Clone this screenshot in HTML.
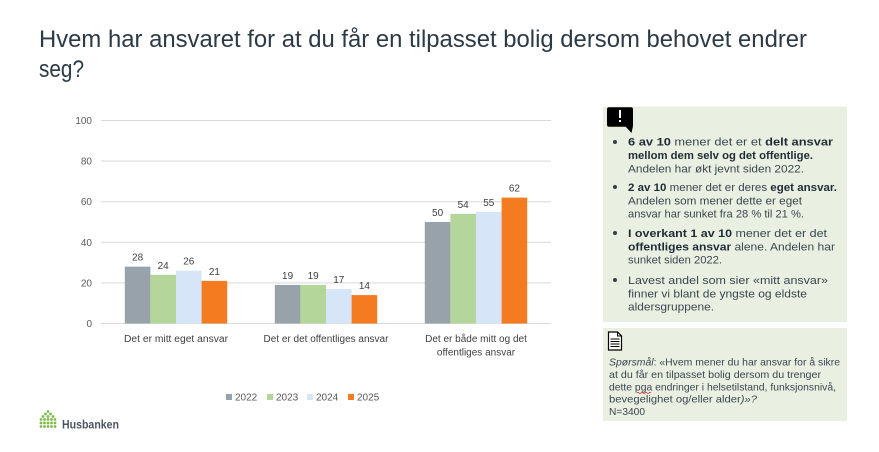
<!DOCTYPE html>
<html>
<head>
<meta charset="utf-8">
<style>
html,body{margin:0;padding:0;background:#fff;}
svg{display:block;}
text{font-family:"Liberation Sans",Arial,sans-serif;}
</style>
</head>
<body>
<svg width="879" height="452" viewBox="0 0 879 452" xmlns="http://www.w3.org/2000/svg">
<rect width="879" height="452" fill="#ffffff"/>

<!-- Title -->
<text x="39" y="47" font-size="24" fill="#2b3a46" textLength="768" lengthAdjust="spacingAndGlyphs">Hvem har ansvaret for at du får en tilpasset bolig dersom behovet endrer</text>
<text x="39" y="77" font-size="24" fill="#2b3a46" textLength="45" lengthAdjust="spacingAndGlyphs">seg?</text>

<!-- Gridlines -->
<g stroke="#d9d9d9" stroke-width="1">
<line x1="101" y1="120.5" x2="551" y2="120.5"/>
<line x1="101" y1="161.1" x2="551" y2="161.1"/>
<line x1="101" y1="201.7" x2="551" y2="201.7"/>
<line x1="101" y1="242.3" x2="551" y2="242.3"/>
<line x1="101" y1="282.9" x2="551" y2="282.9"/>
<line x1="101" y1="323.5" x2="551" y2="323.5"/>
</g>

<!-- Y labels -->
<g font-size="10" fill="#595959" text-anchor="end">
<text x="92" y="124">100</text>
<text x="92" y="164.6">80</text>
<text x="92" y="205.2">60</text>
<text x="92" y="245.8">40</text>
<text x="92" y="286.4">20</text>
<text x="92" y="327">0</text>
</g>

<!-- Bars -->
<g>
<rect x="124.8" y="266.66" width="25.6" height="56.84" fill="#98a2aa"/>
<rect x="150.4" y="274.78" width="25.6" height="48.72" fill="#b4d69b"/>
<rect x="176" y="270.72" width="25.6" height="52.78" fill="#d6e6f8"/>
<rect x="201.6" y="280.87" width="25.6" height="42.63" fill="#f47b20"/>

<rect x="274.8" y="284.93" width="25.6" height="38.57" fill="#98a2aa"/>
<rect x="300.4" y="284.93" width="25.6" height="38.57" fill="#b4d69b"/>
<rect x="326" y="288.99" width="25.6" height="34.51" fill="#d6e6f8"/>
<rect x="351.6" y="295.08" width="25.6" height="28.42" fill="#f47b20"/>

<rect x="424.8" y="222" width="25.6" height="101.5" fill="#98a2aa"/>
<rect x="450.4" y="213.88" width="25.6" height="109.62" fill="#b4d69b"/>
<rect x="476" y="211.85" width="25.6" height="111.65" fill="#d6e6f8"/>
<rect x="501.6" y="197.64" width="25.6" height="125.86" fill="#f47b20"/>
</g>

<!-- Value labels -->
<g font-size="10" fill="#404040" text-anchor="middle">
<text x="137.6" y="260.7">28</text>
<text x="163.2" y="268.8">24</text>
<text x="188.8" y="264.7">26</text>
<text x="214.4" y="274.9">21</text>
<text x="287.6" y="278.9">19</text>
<text x="313.2" y="278.9">19</text>
<text x="338.8" y="283">17</text>
<text x="364.4" y="289.1">14</text>
<text x="437.6" y="216">50</text>
<text x="463.2" y="207.9">54</text>
<text x="488.8" y="205.9">55</text>
<text x="514.4" y="191.6">62</text>
</g>

<!-- Category labels -->
<g font-size="10" fill="#404040" text-anchor="middle">
<text x="176" y="342" textLength="104" lengthAdjust="spacingAndGlyphs">Det er mitt eget ansvar</text>
<text x="326" y="342">Det er det offentliges ansvar</text>
<text x="476" y="342">Det er både mitt og det</text>
<text x="476" y="355.5">offentliges ansvar</text>
</g>

<!-- Legend -->
<g font-size="10" fill="#595959">
<rect x="226" y="394" width="6" height="6" fill="#98a2aa"/>
<text x="235" y="400.5">2022</text>
<rect x="267" y="394" width="6" height="6" fill="#b4d69b"/>
<text x="276" y="400.5">2023</text>
<rect x="307" y="394" width="6" height="6" fill="#d6e6f8"/>
<text x="316" y="400.5">2024</text>
<rect x="348" y="394" width="6" height="6" fill="#f47b20"/>
<text x="357" y="400.5">2025</text>
</g>

<!-- Logo -->
<g fill="#7dbb4a">
<circle cx="48" cy="411.5" r="1.4"/>
<circle cx="45.5" cy="414" r="1.4"/><circle cx="50.5" cy="414" r="1.4"/>
<circle cx="43" cy="416.5" r="1.4"/><circle cx="48" cy="416.5" r="1.4"/><circle cx="53" cy="416.5" r="1.4"/>
<circle cx="41" cy="419.5" r="1.4"/><circle cx="44.5" cy="419.5" r="1.4"/><circle cx="48" cy="419.5" r="1.4"/><circle cx="51.5" cy="419.5" r="1.4"/><circle cx="55" cy="419.5" r="1.4"/>
<circle cx="41" cy="423" r="1.4"/><circle cx="44.5" cy="423" r="1.4"/><circle cx="48" cy="423" r="1.4"/><circle cx="51.5" cy="423" r="1.4"/><circle cx="55" cy="423" r="1.4"/>
<circle cx="41" cy="426.5" r="1.4"/><circle cx="44.5" cy="426.5" r="1.4"/><circle cx="48" cy="426.5" r="1.4"/><circle cx="51.5" cy="426.5" r="1.4"/><circle cx="55" cy="426.5" r="1.4"/>
</g>
<text x="62" y="428.7" font-size="12" font-weight="bold" fill="#4b5560" textLength="57" lengthAdjust="spacingAndGlyphs">Husbanken</text>

<!-- Panel 1 -->
<rect x="603" y="106.5" width="244" height="215.5" fill="#e9f0e1"/>
<rect x="607" y="107.3" width="26" height="19.5" rx="2" fill="#000"/>
<polygon points="625,126 633,126 631.5,133" fill="#000"/>
<rect x="619" y="110" width="2" height="8" fill="#fff"/>
<rect x="619" y="120" width="2" height="2" fill="#fff"/>

<g fill="#333f48">
<circle cx="615" cy="142" r="2"/>
<circle cx="615" cy="187" r="2"/>
<circle cx="615" cy="233" r="2"/>
<circle cx="615" cy="280" r="2"/>
</g>

<g font-size="11.2" fill="#3a4650">
<text x="628" y="145.5" textLength="205" lengthAdjust="spacingAndGlyphs"><tspan font-weight="bold" fill="#1f2c36">6 av 10</tspan> mener det er et <tspan font-weight="bold" fill="#1f2c36">delt ansvar</tspan></text>
<text x="628" y="159" textLength="185" lengthAdjust="spacingAndGlyphs" font-weight="bold" fill="#1f2c36">mellom dem selv og det offentlige.</text>
<text x="628" y="172.3" textLength="176" lengthAdjust="spacingAndGlyphs">Andelen har økt jevnt siden 2022.</text>

<text x="628" y="191" textLength="209" lengthAdjust="spacingAndGlyphs"><tspan font-weight="bold" fill="#1f2c36">2 av 10</tspan> mener det er deres <tspan font-weight="bold" fill="#1f2c36">eget ansvar.</tspan></text>
<text x="628" y="204.3" textLength="174" lengthAdjust="spacingAndGlyphs">Andelen som mener dette er eget</text>
<text x="628" y="217.7" textLength="176" lengthAdjust="spacingAndGlyphs">ansvar har sunket fra 28 % til 21 %.</text>

<text x="628" y="237" textLength="199" lengthAdjust="spacingAndGlyphs"><tspan font-weight="bold" fill="#1f2c36">I overkant 1 av 10</tspan> mener det er det</text>
<text x="628" y="250.3" textLength="207" lengthAdjust="spacingAndGlyphs"><tspan font-weight="bold" fill="#1f2c36">offentliges ansvar</tspan> alene. Andelen har</text>
<text x="628" y="263.7" textLength="94" lengthAdjust="spacingAndGlyphs">sunket siden 2022.</text>

<text x="628" y="284" textLength="200" lengthAdjust="spacingAndGlyphs">Lavest andel som sier «mitt ansvar»</text>
<text x="628" y="297.3" textLength="179" lengthAdjust="spacingAndGlyphs">finner vi blant de yngste og eldste</text>
<text x="628" y="310.7" textLength="86" lengthAdjust="spacingAndGlyphs">aldersgruppene.</text>
</g>

<!-- Panel 2 -->
<rect x="603" y="328" width="244" height="93" fill="#e9f0e1"/>
<g>
<path d="M608.5 332 L617.5 332 L621.5 336 L621.5 350 L608.5 350 Z" fill="#fff" stroke="#000" stroke-width="1.2"/>
<path d="M617.5 332 L617.5 336 L621.5 336" fill="none" stroke="#000" stroke-width="1"/>
<g stroke="#000" stroke-width="1">
<line x1="610.5" y1="339" x2="619.5" y2="339"/>
<line x1="610.5" y1="341.5" x2="619.5" y2="341.5"/>
<line x1="610.5" y1="344" x2="619.5" y2="344"/>
<line x1="610.5" y1="346.5" x2="619.5" y2="346.5"/>
</g>
</g>
<g font-size="10.4" fill="#3a4650">
<text x="609" y="365.5" textLength="231" lengthAdjust="spacingAndGlyphs"><tspan font-style="italic">Spørsmål</tspan>: «Hvem mener du har ansvar for å sikre</text>
<text x="609" y="378" textLength="212" lengthAdjust="spacingAndGlyphs">at du får en tilpasset bolig dersom du trenger</text>
<text x="609" y="390.3" textLength="227" lengthAdjust="spacingAndGlyphs">dette pga endringer i helsetilstand, funksjonsnivå,</text>
<text x="609" y="402.6" textLength="148" lengthAdjust="spacingAndGlyphs">bevegelighet og/eller alder<tspan font-style="italic">)»?</tspan></text>
<text x="609" y="414.9" textLength="36" lengthAdjust="spacingAndGlyphs">N=3400</text>
</g>
<path d="M637 393 q1 -1.2 2 0 t2 0 t2 0 t2 0 t2 0 t2 0 t2 0" fill="none" stroke="#e03030" stroke-width="0.8"/>

</svg>
</body>
</html>
